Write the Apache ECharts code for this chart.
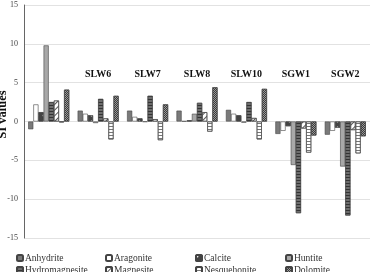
<!DOCTYPE html>
<html>
<head>
<meta charset="utf-8">
<script src="https://cdn.jsdelivr.net/npm/echarts@6/dist/echarts.min.js"></script>
<style>
  html, body { margin: 0; padding: 0; background: #fff; }
  #chart { width: 370px; height: 272px; }
</style>
</head>
<body>
<div id="chart"></div>
<script>
// 样品（第一组没有标签）
var categories = ['', 'SLW6', 'SLW7', 'SLW8', 'SLW10', 'SGW1', 'SGW2'];
var yTicks = [-15, -10, -5, 0, 5, 10, 15];

var anhydrite      = [-1.0, 1.4, 1.4, 1.4, 1.5, -1.6, -1.7];
var aragonite      = [2.2, 1.0, 0.6, 0.05, 1.0, -1.2, -1.2];
var calcite        = [1.2, 0.8, 0.4, 0.15, 0.8, -0.6, -0.8];
var huntite        = [9.8, -0.2, -0.05, 1.0, -0.15, -5.6, -5.8];
var hydromagnesite = [2.5, 2.9, 3.3, 2.4, 2.5, -11.8, -12.1];
var magnesite      = [2.7, 0.4, 0.3, 1.2, 0.45, -0.9, -1.1];
var nesquehonite   = [-0.1, -2.3, -2.4, -1.3, -2.3, -4.0, -4.1];
var dolomite       = [4.1, 3.3, 2.2, 4.4, 4.2, -1.8, -1.9];

var seriesDefs = [
    { name: 'Anhydrite', data: anhydrite, color: '#7a7a7a' },
    { name: 'Aragonite', data: aragonite, color: '#ffffff' },
    { name: 'Calcite', data: calcite, color: '#444444',
      decal: { symbol: 'circle', symbolSize: 0.6, dashArrayX: [[3, 3]], dashArrayY: [3, 3], color: '#ffffff' } },
    { name: 'Huntite', data: huntite, color: '#a8a8a8' },
    { name: 'Hydromagnesite', data: hydromagnesite, color: '#6e6e6e',
      decal: { symbol: 'rect', dashArrayX: [[1, 0]], dashArrayY: [1, 2], color: '#333333' } },
    { name: 'Magnesite', data: magnesite, color: '#ffffff',
      decal: { symbol: 'rect', dashArrayX: [[1, 0]], dashArrayY: [1, 3], rotation: -Math.PI / 4, color: '#555555' } },
    { name: 'Nesquehonite', data: nesquehonite, color: '#ffffff',
      decal: { symbol: 'rect', dashArrayX: [[1, 0]], dashArrayY: [1, 2], color: '#777777' } },
    { name: 'Dolomite', data: dolomite, color: '#9a9a9a',
      decal: { symbol: 'rect', symbolSize: 1, dashArrayX: [[1, 1], [0, 1, 1, 0]], dashArrayY: [1, 0], color: '#3a3a3a' } }
];

var series = seriesDefs.map(function (s) {
    var style = { color: s.color, borderColor: '#444', borderWidth: 0.6 };
    if (s.decal) style.decal = s.decal;
    return {
        name: s.name,
        type: 'bar',
        data: s.data,
        barGap: '0%',
        barCategoryGap: '17%',
        itemStyle: style
    };
});

// 图例分两行四列，每个条目单独放
var legendCols = [16, 105, 195, 285];
var legends = seriesDefs.map(function (s, i) {
    return {
        data: [s.name],
        left: legendCols[i % 4],
        top: i < 4 ? 253 : 265,
        padding: 0,
        itemWidth: 6,
        itemHeight: 6,
        itemGap: 0,
        textStyle: { fontSize: 9.5, color: '#333', padding: [0, 0, 0, -3] }
    };
});

var chart = echarts.init(document.getElementById('chart'));
chart.setOption({
    animation: false,
    aria: { enabled: true, decal: { show: false } },
    textStyle: { fontFamily: 'Liberation Serif' },
    grid: { left: 24, right: 0, top: 5, bottom: 34, containLabel: false, outerBoundsMode: 'none' },
    legend: legends,
    xAxis: {
        type: 'category',
        data: categories,
        position: 'top',
        axisLine: { show: false },
        axisTick: { show: false },
        axisLabel: { margin: -74, fontSize: 10, fontWeight: 'bold', color: '#111' }
    },
    yAxis: {
        type: 'value',
        min: yTicks[0],
        max: yTicks[yTicks.length - 1],
        interval: 5,
        name: 'SI values',
        nameLocation: 'middle',
        nameGap: 15,
        nameMoveOverlap: false,
        nameTextStyle: { fontSize: 12.5, fontWeight: 'bold', color: '#111', padding: [0, 0, 0, 14] },
        axisLine: { show: true, lineStyle: { color: '#666', width: 1 } },
        axisTick: { show: false },
        axisLabel: { fontSize: 8, color: '#444', margin: 6 },
        splitLine: { lineStyle: { color: '#e2e2e2' } }
    },
    series: series
});
</script>
</body>
</html>
